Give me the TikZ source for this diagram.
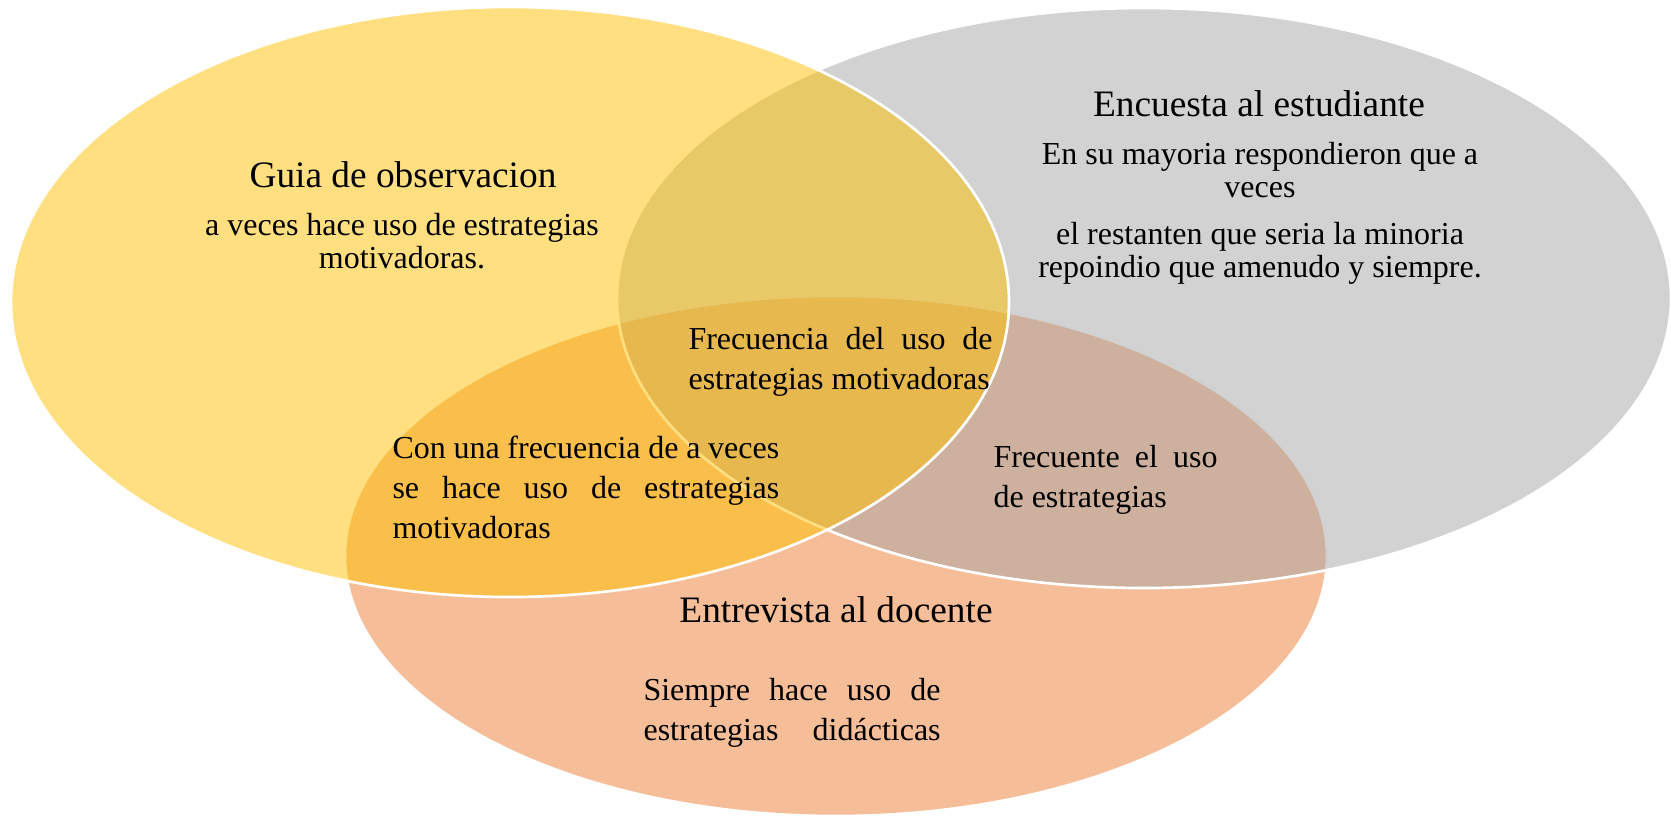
\documentclass[tikz,border=0pt]{standalone}
\usepackage{fontspec}
\setmainfont{Liberation Serif}
\usepackage{tikz}
\definecolor{vennGold}{HTML}{FFC000}
\definecolor{vennGray}{HTML}{A5A5A5}
\definecolor{vennOrange}{HTML}{ED7D31}
\tikzstyle{vennSet} = [draw=white, line width=1pt, fill opacity=0.5]
\tikzstyle{titleText} = [inner sep=0pt, anchor=base, align=center, font=\fontsize{14pt}{16pt}\selectfont]
\tikzstyle{bodyText} = [inner sep=0pt, anchor=base, text width=180pt, align=flush center, font=\fontsize{12pt}{12.4pt}\selectfont]
\tikzstyle{sharedText} = [inner sep=0pt, anchor=base west, align=justify, font=\fontsize{12pt}{15pt}\selectfont]

\begin{document}
\begin{tikzpicture}[x=0.375pt, y=-0.375pt]

\useasboundingbox (0,0) rectangle (1671,816);

% the three sets, bottom one first
\draw [vennSet, fill=vennOrange] (836,556) ellipse [x radius=491, y radius=260];
\draw [vennSet, fill=vennGray] (1144,298) ellipse [x radius=527, y radius=290];
\draw [vennSet, fill=vennGold] (510,302) ellipse [x radius=499, y radius=295];

\node (obsTitle) [titleText] at (403,187) {Guia de observacion};
\node (obsText) [bodyText] at (402,235) {a veces hace uso de estrategias\\ motivadoras.};

\node (encTitle) [titleText] at (1259,116) {Encuesta al estudiante};
\node (encText) [bodyText] at (1260,164) {En su mayoria respondieron que a\\ veces\\[5.2pt]
el restanten que seria la minoria\\ repoindio que amenudo y siempre.};

\node (entTitle) [titleText] at (836,622) {Entrevista al docente};
\node (entText) [sharedText, text width=111.4pt] at (643,700) {Siempre hace uso de\linebreak estrategias\hfill didácticas};

\node (allText) [sharedText, text width=114pt] at (688,349) {Frecuencia del uso de\linebreak estrategias motivadoras};
\node (obsEntText) [sharedText, text width=145pt] at (392,458) {Con una frecuencia de a veces\linebreak se hace uso de estrategias\linebreak motivadoras};
\node (encEntText) [sharedText, text width=84pt] at (993,467) {Frecuente el uso\linebreak de estrategias};

\end{tikzpicture}
\end{document}
